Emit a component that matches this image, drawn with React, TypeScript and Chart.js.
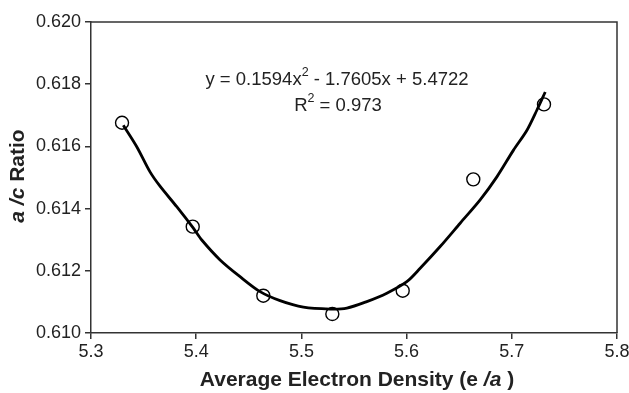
import React, { useEffect, useRef } from 'react';
import { Chart, registerables } from 'chart.js';

Chart.register(...registerables);

// Measured data points (average electron density e/a vs a/c ratio)
const densityX = [5.3295, 5.3967, 5.4638, 5.5294, 5.5963, 5.6634, 5.7306];
const ratioY = [0.61676, 0.61342, 0.6112, 0.61061, 0.61136, 0.61494, 0.61735];

// Trend line
const fitX = [5.3307, 5.3435, 5.3561, 5.3656, 5.3815, 5.3973, 5.4053, 5.4227, 5.4417, 5.4607, 5.4797, 5.5019, 5.5273, 5.5432, 5.5622, 5.5812, 5.6002, 5.6129, 5.6319, 5.6509, 5.6699, 5.6858, 5.7016, 5.7144, 5.7239, 5.7318];
const fitY = [0.61668, 0.61599, 0.61518, 0.61472, 0.61406, 0.61337, 0.61299, 0.61235, 0.61181, 0.61133, 0.61104, 0.61083, 0.61077, 0.6108, 0.61101, 0.61128, 0.61165, 0.61208, 0.61278, 0.61353, 0.61428, 0.61502, 0.61588, 0.61652, 0.61717, 0.61775];

const xTickValues = [5.3, 5.4, 5.5, 5.6, 5.7, 5.8];
const yTickValues = [0.61, 0.612, 0.614, 0.616, 0.618, 0.62];

const equationParts = ['y = 0.1594x', '2', ' - 1.7605x + 5.4722'];
const rSquaredParts = ['R', '2', ' = 0.973'];
const yTitleParts = ['a /c', ' Ratio'];
const xTitleParts = ['Average Electron Density (e ', '/a', ' )'];

const FONT = '"Liberation Sans", Arial, Helvetica, sans-serif';
const INK = '#222';
const AXIS = '#333';

type Seg = { text: string; font: string; dy?: number };

function drawSegments(ctx: CanvasRenderingContext2D, segs: Seg[], cx: number, cy: number) {
  let total = 0;
  for (const s of segs) {
    ctx.font = s.font;
    total += ctx.measureText(s.text).width;
  }
  let x = cx - total / 2;
  for (const s of segs) {
    ctx.font = s.font;
    ctx.fillText(s.text, x, cy + (s.dy || 0));
    x += ctx.measureText(s.text).width;
  }
}

const decorPlugin = {
  id: 'decor',
  afterDraw(chart: any) {
    const { ctx, chartArea } = chart;
    ctx.save();
    // frame top/right
    ctx.strokeStyle = AXIS;
    ctx.lineWidth = 1.5;
    ctx.beginPath();
    ctx.moveTo(chartArea.left, chartArea.top);
    ctx.lineTo(chartArea.right, chartArea.top);
    ctx.lineTo(chartArea.right, chartArea.bottom);
    ctx.stroke();

    ctx.fillStyle = INK;
    ctx.textBaseline = 'middle';
    ctx.textAlign = 'left';
    const eqFont = `18.5px ${FONT}`;
    const supFont = `12.5px ${FONT}`;
    drawSegments(ctx, [
      { text: equationParts[0], font: eqFont },
      { text: equationParts[1], font: supFont, dy: -7 },
      { text: equationParts[2], font: eqFont },
    ], 337, 80);
    drawSegments(ctx, [
      { text: rSquaredParts[0], font: eqFont },
      { text: rSquaredParts[1], font: supFont, dy: -7 },
      { text: rSquaredParts[2], font: eqFont },
    ], 338, 106);

    // x title
    const bold = `bold 21px ${FONT}`;
    const boldIt = `italic bold 21px ${FONT}`;
    drawSegments(ctx, [
      { text: xTitleParts[0], font: bold },
      { text: xTitleParts[1], font: boldIt },
      { text: xTitleParts[2], font: bold },
    ], 357, 380);

    // y title
    ctx.translate(18, 176);
    ctx.rotate(-Math.PI / 2);
    drawSegments(ctx, [
      { text: yTitleParts[0], font: boldIt },
      { text: yTitleParts[1], font: bold },
    ], 0, 0);
    ctx.restore();
  },
};

export default function App() {
  const ref = useRef<HTMLCanvasElement | null>(null);
  useEffect(() => {
    document.body.style.margin = '0';
    const canvas = ref.current;
    if (!canvas) return;
    const chart = new Chart(canvas, {
      type: 'scatter',
      data: {
        datasets: [
          {
            type: 'line',
            label: 'fit',
            data: fitX.map((x, i) => ({ x, y: fitY[i] })),
            borderColor: '#000',
            borderWidth: 2.8,
            pointRadius: 0,
            tension: 0.3,
            fill: false,
            order: 0,
          } as any,
          {
            type: 'scatter',
            label: 'data',
            data: densityX.map((x, i) => ({ x, y: ratioY[i] })),
            borderColor: '#000',
            backgroundColor: 'rgba(0,0,0,0)',
            borderWidth: 1.4,
            pointRadius: 6.5,
            order: 1,
          },
        ],
      },
      options: {
        responsive: false,
        animation: false,
        devicePixelRatio: 1,
        layout: { padding: { top: 22, right: 12, left: 0, bottom: 0 } },
        plugins: { legend: { display: false }, tooltip: { enabled: false } },
        scales: {
          x: {
            type: 'linear',
            min: 5.3,
            max: 5.8,
            afterBuildTicks: (s: any) => { s.ticks = xTickValues.map((v) => ({ value: v })); },
            afterFit: (s: any) => { s.height = 60; s.paddingRight = 0; s.paddingLeft = 0; },
            ticks: {
              callback: (v: any) => Number(v).toFixed(1),
              font: { family: FONT, size: 18 },
              color: INK,
              padding: 2,
              maxRotation: 0,
            },
            grid: { drawOnChartArea: false, drawTicks: true, tickLength: 6, color: AXIS, lineWidth: 1.5 },
            border: { display: true, color: AXIS, width: 1.5 },
          },
          y: {
            type: 'linear',
            min: 0.61,
            max: 0.62,
            afterBuildTicks: (s: any) => { s.ticks = yTickValues.map((v) => ({ value: v })); },
            afterFit: (s: any) => { s.width = 91; s.paddingTop = 0; s.paddingBottom = 0; },
            ticks: {
              callback: (v: any) => Number(v).toFixed(3),
              font: { family: FONT, size: 18 },
              color: INK,
              padding: 4,
            },
            grid: { drawOnChartArea: false, drawTicks: true, tickLength: 6, color: AXIS, lineWidth: 1.5 },
            border: { display: true, color: AXIS, width: 1.5 },
          },
        },
      } as any,
      plugins: [decorPlugin],
    });
    return () => chart.destroy();
  }, []);
  return (
    <div style={{ position: 'absolute', left: 0, top: 0, width: 629, height: 393, background: '#fff' }}>
      <canvas ref={ref} width={629} height={393} style={{ display: 'block', width: 629, height: 393 }} />
    </div>
  );
}
